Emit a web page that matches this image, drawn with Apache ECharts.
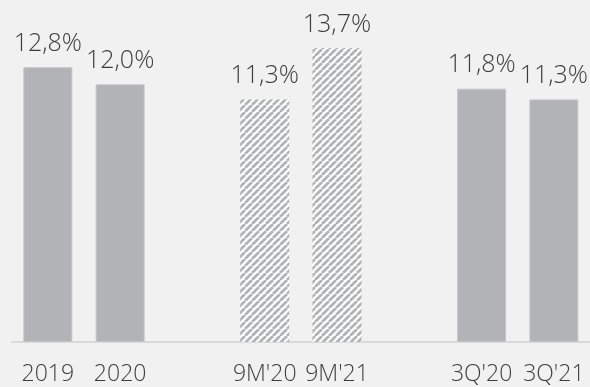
<!DOCTYPE html>
<html>
<head>
<meta charset="utf-8">
<script src="https://cdn.jsdelivr.net/npm/echarts@6/dist/echarts.min.js"></script>
<style>
  html, body { margin: 0; padding: 0; background: #f1f1f1; }
  #chart { width: 590px; height: 387px; }
</style>
</head>
<body>
<div id="chart"></div>
<script>
// Periods shown on the x axis; blank entries leave a gap between groups.
const categories = ['2019', '2020', '', "9M'20", "9M'21", '', "3Q'20", "3Q'21"];
// Ratio per period, in percent.
const values = [12.8, 12.0, null, 11.3, 13.7, null, 11.8, 11.3];

const FONT = '"Open Sans", "Noto Sans", sans-serif';
const BAR_GREY = '#b1b3b7';
const TEXT = '#3d3d3d';

// Diagonal hatch used for the nine-month periods.
function hatchPattern() {
  const s = 7;
  const c = document.createElement('canvas');
  c.width = s; c.height = s;
  const g = c.getContext('2d');
  g.fillStyle = '#ffffff';
  g.fillRect(0, 0, s, s);
  g.strokeStyle = BAR_GREY;
  g.lineWidth = 2.8;
  g.beginPath();
  for (let k = -1; k <= 1; k++) {
    g.moveTo(k * s, s);
    g.lineTo(k * s + s, 0);
  }
  g.stroke();
  return c;
}
const hatch = { image: hatchPattern(), repeat: 'repeat' };

const seriesData = values.map((v, i) => {
  if (v === null) return null;
  const isNineMonths = categories[i].startsWith('9M');
  return {
    value: v,
    itemStyle: isNineMonths
      ? { color: hatch, borderWidth: 0 }
      : { color: BAR_GREY, borderColor: '#c4c6c9', borderWidth: 1 }
  };
});

const chart = echarts.init(document.getElementById('chart'), null, { renderer: 'canvas' });
chart.setOption({
  backgroundColor: '#f1f1f1',
  animation: false,
  grid: { left: 11.7, right: -3.2, top: 0, bottom: 45, containLabel: false },
  xAxis: {
    type: 'category',
    data: categories,
    axisLine: { show: true, lineStyle: { color: '#d9d9d9', width: 2 } },
    axisTick: { show: false },
    axisLabel: {
      interval: 0,
      margin: 21,
      fontFamily: FONT,
      fontWeight: 300,
      fontSize: 23,
      color: TEXT
    }
  },
  yAxis: {
    type: 'value',
    min: 0,
    max: 15.93,
    show: false,
    splitLine: { show: false }
  },
  series: [{
    type: 'bar',
    data: seriesData,
    barWidth: 49,
    label: {
      show: true,
      position: 'top',
      distance: 11,
      fontFamily: FONT,
      fontWeight: 300,
      fontSize: 25,
      color: TEXT,
      formatter: p => p.value.toFixed(1).replace('.', ',') + '%'
    }
  }]
});
</script>
</body>
</html>
